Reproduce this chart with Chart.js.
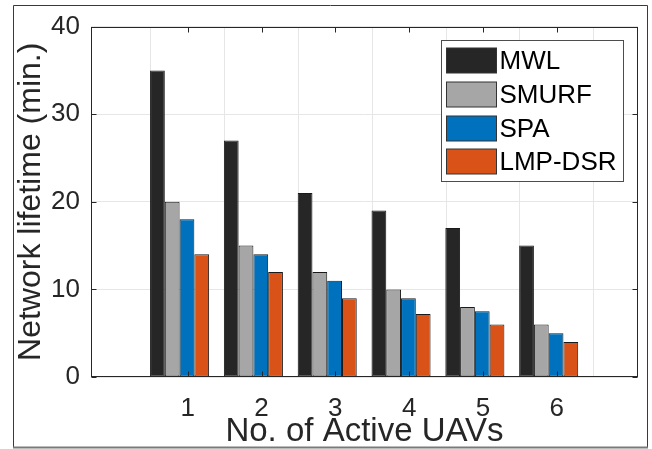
<!DOCTYPE html>
<html>
<head>
<meta charset="utf-8">
<script src="https://cdn.jsdelivr.net/npm/chart.js@4/dist/chart.umd.min.js"></script>
<style>
  html, body { margin: 0; padding: 0; background: #fff; }
  #wrap { width: 652px; height: 449px; }
</style>
</head>
<body>
<div id="wrap"><canvas id="c" width="652" height="449"></canvas></div>
<script>
// Number of active UAVs on the x axis
const categories = [1, 2, 3, 4, 5, 6];
// Network lifetime (minutes) per routing scheme
const mwl    = [35, 27, 21, 19, 17, 15];
const smurf  = [20, 15, 12, 10, 8, 6];
const spa    = [18, 14, 11, 9, 7.5, 5];
const lmpDsr = [14, 12, 9, 7.2, 6, 4];
// Tick labels
const xTicks = [1, 2, 3, 4, 5, 6];
const yTicks = [0, 10, 20, 30, 40];

const FONT = '"Liberation Sans", Arial, Helvetica, sans-serif';
const INK = '#262626';
const GRID = '#e6e6e6';

// White page, outer figure frame
const framePlugin = {
  id: 'frame',
  beforeDraw(chart) {
    const ctx = chart.ctx;
    ctx.save();
    ctx.fillStyle = '#fff';
    ctx.fillRect(0, 0, chart.width, chart.height);
    ctx.strokeStyle = '#3a3a3a';
    ctx.lineWidth = 1;
    ctx.beginPath();
    ctx.moveTo(13.5, 447);
    ctx.lineTo(13.5, 5.5);
    ctx.lineTo(647.5, 5.5);
    ctx.lineTo(647.5, 447);
    ctx.stroke();
    ctx.strokeStyle = '#7a7a7a';
    ctx.lineWidth = 2;
    ctx.beginPath();
    ctx.moveTo(13, 447.5);
    ctx.lineTo(648, 447.5);
    ctx.stroke();
    ctx.restore();
  }
};

// Axis box with inward tick marks, and the legend inside the plot
const boxPlugin = {
  id: 'box',
  afterDraw(chart) {
    const ctx = chart.ctx;
    const a = chart.chartArea;
    const xs = chart.scales.xt, ys = chart.scales.y;
    const L = Math.round(a.left) + 0.5, R = Math.round(a.right) - 0.5;
    const T = Math.round(a.top) + 0.5, B = Math.round(a.bottom) - 0.5;
    ctx.save();
    ctx.strokeStyle = INK;
    ctx.lineWidth = 1;
    ctx.strokeRect(L, T, R - L, B - T);
    const tl = 5;
    ctx.beginPath();
    xTicks.forEach(v => {
      const px = Math.round(xs.getPixelForValue(v)) + 0.5;
      ctx.moveTo(px, B); ctx.lineTo(px, B - tl);
      ctx.moveTo(px, T); ctx.lineTo(px, T + tl);
    });
    yTicks.forEach(v => {
      const py = Math.round(ys.getPixelForValue(v)) + 0.5;
      ctx.moveTo(L, py); ctx.lineTo(L + tl, py);
      ctx.moveTo(R, py); ctx.lineTo(R - tl, py);
    });
    ctx.stroke();

    // legend
    const lx = Math.round(a.right) - 196.5, ly = Math.round(a.top) + 13.5;
    const lw = 182, lh = 141;
    ctx.fillStyle = '#fff';
    ctx.fillRect(lx, ly, lw, lh);
    ctx.strokeStyle = '#4d4d4d';
    ctx.strokeRect(lx, ly, lw, lh);
    ctx.font = '26px ' + FONT;
    ctx.textBaseline = 'middle';
    ctx.textAlign = 'left';
    chart.data.datasets.forEach((ds, i) => {
      const sy = ly + 7.5 + i * 33.8;
      const sx = lx + 5;
      ctx.fillStyle = ds.backgroundColor;
      ctx.fillRect(sx, Math.round(sy), 50, 25);
      ctx.strokeStyle = '#333';
      ctx.strokeRect(sx, Math.round(sy), 50, 25);
      ctx.fillStyle = '#000';
      ctx.fillText(ds.label, sx + 53, Math.round(sy) + 13.5);
    });
    ctx.restore();
  }
};

const barStyle = { borderColor: '#1a1a1a', borderWidth: 1, borderSkipped: false, xAxisID: 'x' };

new Chart(document.getElementById('c'), {
  type: 'bar',
  data: {
    labels: categories,
    datasets: [
      Object.assign({ label: 'MWL',     data: mwl,    backgroundColor: '#262626' }, barStyle),
      Object.assign({ label: 'SMURF',   data: smurf,  backgroundColor: '#a6a6a6' }, barStyle),
      Object.assign({ label: 'SPA',     data: spa,    backgroundColor: '#0072bd' }, barStyle),
      Object.assign({ label: 'LMP-DSR', data: lmpDsr, backgroundColor: '#d95319' }, barStyle)
    ]
  },
  options: {
    responsive: false,
    animation: false,
    devicePixelRatio: 1,
    layout: { padding: { left: 0, top: 20, right: 14, bottom: 0 } },
    datasets: { bar: { categoryPercentage: 0.8, barPercentage: 1.0 } },
    plugins: { legend: { display: false }, tooltip: { enabled: false } },
    scales: {
      x: { type: 'linear', display: false, bounds: 'data', min: -0.2, max: 7.21, offset: false },
      xt: {
        type: 'linear', position: 'bottom', bounds: 'data', min: -0.31, max: 7.1, offset: false,
        afterBuildTicks: s => { s.ticks = xTicks.map(v => ({ value: v })); },
        afterFit: s => { s.height = 72; },
        grid: { color: GRID, drawTicks: false },
        border: { display: false },
        ticks: { font: { family: FONT, size: 26 }, color: INK, padding: 16, maxRotation: 0, autoSkip: false },
        title: { display: true, text: 'No. of Active UAVs', color: INK,
                 font: { family: FONT, size: 33, lineHeight: 1 }, padding: { top: 0, bottom: 1 } }
      },
      y: {
        type: 'linear', bounds: 'data', min: 0, max: 40,
        afterBuildTicks: s => { s.ticks = yTicks.map(v => ({ value: v })); },
        afterFit: s => { s.width = 91; },
        grid: { color: GRID, drawTicks: false },
        border: { display: false },
        ticks: { font: { family: FONT, size: 26 }, color: INK, padding: 11 },
        title: { display: true, text: 'Network lifetime (min.)', color: INK,
                 font: { family: FONT, size: 32, lineHeight: 1 }, padding: { top: 15, bottom: 0 } }
      }
    }
  },
  plugins: [framePlugin, boxPlugin]
});
</script>
</body>
</html>
